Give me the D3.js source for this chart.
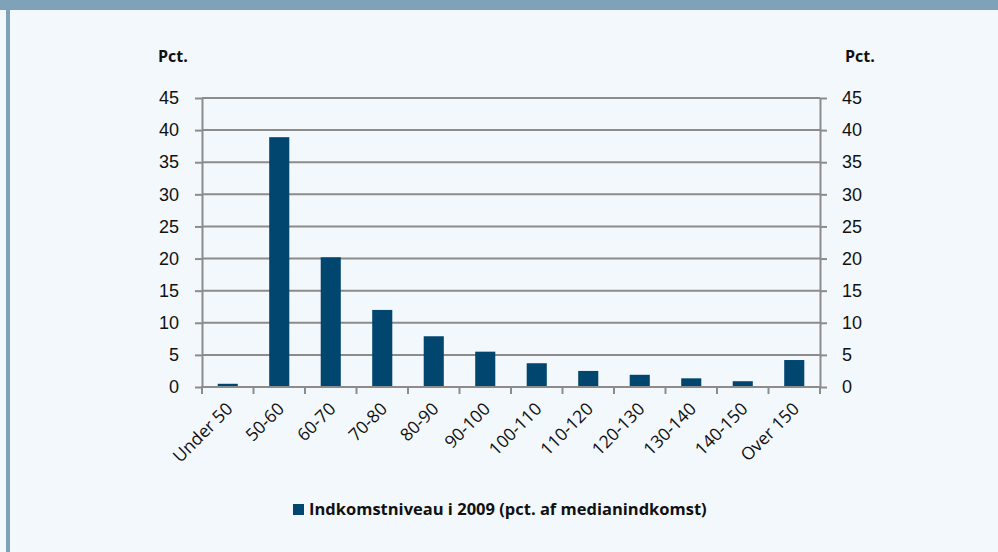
<!DOCTYPE html>
<html>
<head>
<meta charset="utf-8">
<script src="https://cdn.jsdelivr.net/npm/d3@7"></script>
<style>
  html, body { margin: 0; padding: 0; background: #f3f8fc; }
  svg { display: block; font-family: "Open Sans", "Noto Sans", sans-serif; }
</style>
</head>
<body>
<div id="chart"></div>
<script>
const categories = ["Under 50", "50-60", "60-70", "70-80", "80-90", "90-100", "100-110", "110-120", "120-130", "130-140", "140-150", "Over 150"];
const values = [0.5, 38.9, 20.2, 12.0, 7.9, 5.5, 3.7, 2.5, 1.9, 1.35, 0.9, 4.2];
const yTicks = [0, 5, 10, 15, 20, 25, 30, 35, 40, 45];
const seriesName = "Indkomstniveau i 2009 (pct. af medianindkomst)";

const W = 998, H = 552;
const margin = { left: 202, right: 178, top: 98, bottom: 165 };
const BAR = "#00466e", AXIS = "#8c8c8c";

const svg = d3.select("#chart").append("svg").attr("width", W).attr("height", H);

svg.append("rect").attr("width", W).attr("height", H).attr("fill", "#f3f8fc");
// header band and left border
svg.append("rect").attr("x", 0).attr("y", 0).attr("width", W).attr("height", 10).attr("fill", "#7ea3b9");
svg.append("rect").attr("x", 6).attr("y", 0).attr("width", 4).attr("height", H).attr("fill", "#7ea3b9");

const x = d3.scaleBand().domain(categories).range([margin.left, W - margin.right]).paddingInner(0.61).paddingOuter(0.305);
const xb = d3.scaleBand().domain(categories).range([margin.left, W - margin.right]);
const y = d3.scaleLinear().domain([0, 45]).range([H - margin.bottom, margin.top]);

// gridlines
svg.append("g").selectAll("line").data(yTicks.filter(d => d > 0)).join("line")
  .attr("x1", margin.left).attr("x2", W - margin.right)
  .attr("y1", d => y(d)).attr("y2", d => y(d))
  .attr("stroke", AXIS).attr("stroke-width", 2);

// bars
svg.append("g").selectAll("rect").data(values).join("rect")
  .attr("x", (d, i) => x(categories[i]))
  .attr("width", x.bandwidth())
  .attr("y", d => y(d))
  .attr("height", d => y(0) - y(d))
  .attr("fill", BAR);

function styleAxis(g) {
  g.select(".domain").attr("stroke", AXIS).attr("stroke-width", 2);
  g.selectAll(".tick line").attr("stroke", AXIS).attr("stroke-width", 2);
  g.selectAll("text").attr("fill", "#111").style("font-size", "18px");
}

const left = svg.append("g").attr("transform", `translate(${margin.left},0)`)
  .call(d3.axisLeft(y).tickValues(yTicks).tickSize(7).tickSizeOuter(0).tickPadding(16));
styleAxis(left);

const right = svg.append("g").attr("transform", `translate(${W - margin.right},0)`)
  .call(d3.axisRight(y).tickValues(yTicks).tickSize(7).tickSizeOuter(0).tickPadding(15));
styleAxis(right);

// bottom axis: ticks at category boundaries
const bottom = svg.append("g").attr("transform", `translate(0,${y(0)})`);
bottom.append("line").attr("x1", margin.left - 1).attr("x2", W - margin.right + 1)
  .attr("stroke", AXIS).attr("stroke-width", 2);
const bounds = categories.map(c => xb(c)).concat([W - margin.right]);
bottom.selectAll(".bt").data(bounds).join("line").attr("class", "bt")
  .attr("x1", d => d).attr("x2", d => d).attr("y1", 0).attr("y2", 7)
  .attr("stroke", AXIS).attr("stroke-width", 2);
bottom.selectAll("text").data(categories).join("text")
  .attr("transform", d => `translate(${xb(d) + xb.bandwidth() / 2 + 6},${23}) rotate(-45)`)
  .attr("text-anchor", "end")
  .attr("fill", "#111").style("font-size", "17.5px")
  .text(d => d);

// axis titles
svg.append("text").attr("x", 158).attr("y", 62).style("font-size", "16px").style("font-weight", "bold").attr("fill", "#111").text("Pct.");
svg.append("text").attr("x", 845).attr("y", 62).style("font-size", "16px").style("font-weight", "bold").attr("fill", "#111").text("Pct.");

// legend
const lg = svg.append("g");
lg.append("rect").attr("x", 293).attr("y", 504).attr("width", 11).attr("height", 11).attr("fill", BAR);
lg.append("text").attr("x", 309).attr("y", 515).style("font-size", "16.5px").style("font-weight", "bold")
  .attr("fill", "#111").text(seriesName);
</script>
</body>
</html>
